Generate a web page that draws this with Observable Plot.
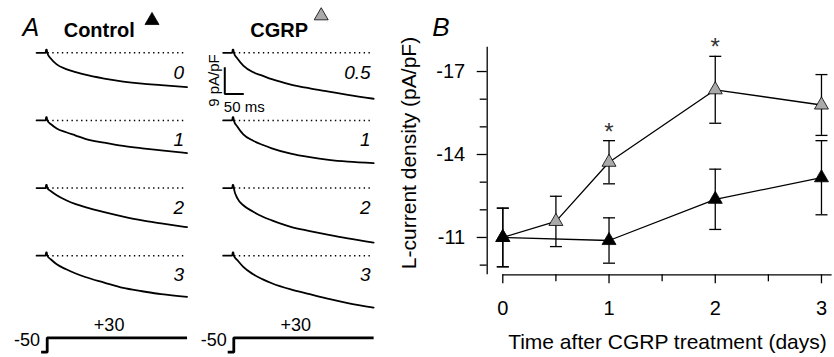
<!DOCTYPE html>
<html><head><meta charset="utf-8">
<script src="https://cdn.jsdelivr.net/npm/d3@7"></script>
<script src="https://cdn.jsdelivr.net/npm/@observablehq/plot@0.6"></script>
<style>
html,body{margin:0;padding:0;background:#fff;}
#fig{position:relative;width:834px;height:357px;overflow:hidden;background:#fff;}
#fig > svg{position:absolute;}
</style></head><body><div id="fig"></div>
<script>
// ---------- Panel A data (whole-cell L-type current traces) ----------
const conds = ["Control", "CGRP"];
const ctrlLabels = ["0", "1", "2", "3"];
const cgrpLabels = ["0.5", "1", "2", "3"];
const traceT = [0, 10, 25, 50, 75, 100, 150, 200, 250, 300, 368];   // ms
const preT = [-28, -4, -3, -1];                                     // ms, holding + artefact
const preI = [0, 0, 1.1, 1.1];                                      // pA/pF
const ctrlDay0 = [0, -2.0, -3.9, -5.5, -6.5, -7.4, -8.7, -9.7, -10.4, -10.9, -11.6];
const ctrlDay1 = [0, -1.3, -2.7, -4.0, -5.1, -6.2, -7.5, -8.6, -9.4, -10.1, -11.0];
const ctrlDay2 = [0, -1.1, -2.4, -4.1, -5.4, -6.4, -8.1, -9.6, -10.9, -11.9, -13.2];
const ctrlDay3 = [0, -1.3, -2.9, -4.6, -6.0, -7.2, -9.1, -10.9, -12.0, -13.0, -13.9];
const cgrpDay05 = [0, -2.0, -4.3, -6.5, -7.7, -8.9, -10.7, -12.0, -13.1, -14.2, -15.5];
const cgrpDay1 = [0, -2.2, -4.7, -6.8, -8.2, -9.4, -11.2, -12.4, -13.3, -13.9, -14.4];
const cgrpDay2 = [0, -3.6, -5.8, -7.9, -9.6, -10.9, -13.1, -14.5, -15.8, -17.0, -18.4];
const cgrpDay3 = [0, -1.6, -3.8, -6.2, -7.9, -9.3, -11.4, -13.0, -14.6, -16.0, -17.5];
const scaleBarMs = 50;
const scaleBarPApF = 9;
// voltage protocol
const protoT = [-16, 0, 0, 368];
const protoV = [-50, -50, 30, 30];

// ---------- Panel B data ----------
const bCtrlDays = [0, 1, 2, 3];
const bCtrlMean = [-11.0, -10.89, -12.38, -13.16];
const bCtrlSem = [1.06, 0.82, 1.09, 1.34];
const bCgrpDays = [0, 0.5, 1, 2, 3];
const bCgrpMean = [-11.0, -11.58, -13.72, -16.34, -15.79];
const bCgrpSem = [1.06, 0.91, 0.78, 1.21, 1.10];
const sigDays = [1, 2];
const xMajor = [0, 1, 2, 3];
const xMinor = [0.5, 1.5, 2.5];
const yMajor = [-17, -14, -11];
const yMinor = [-16, -15, -13, -12, -10];

// ---------- build tables ----------
const FONT = "'Liberation Sans', Arial, Helvetica, sans-serif";
const GRAY = "#aaaaaa";
const traceSets = [
  ["Control", 0, ctrlLabels[0], ctrlDay0], ["Control", 1, ctrlLabels[1], ctrlDay1],
  ["Control", 2, ctrlLabels[2], ctrlDay2], ["Control", 3, ctrlLabels[3], ctrlDay3],
  ["CGRP", 0, cgrpLabels[0], cgrpDay05], ["CGRP", 1, cgrpLabels[1], cgrpDay1],
  ["CGRP", 2, cgrpLabels[2], cgrpDay2], ["CGRP", 3, cgrpLabels[3], cgrpDay3]
];
const traceMeta = traceSets.map(([cond, row, label]) => ({cond, row, label, key: cond + row}));
const traceRows = [];
for (const [cond, row, label, vals] of traceSets) {
  preT.forEach((t, j) => traceRows.push({cond, row, key: cond + row, t, i: preI[j]}));
  traceT.forEach((t, j) => traceRows.push({cond, row, key: cond + row, t, i: vals[j]}));
}
const protoRows = [];
for (const cond of conds) protoT.forEach((t, j) => protoRows.push({cond, t, v: protoV[j]}));

const headers = [
  {cond: "Control", title: "Control", fill: "#000"},
  {cond: "CGRP", title: "CGRP", fill: GRAY}
];

// scale bar corner (layout anchor in data units of the CGRP day-0.5 cell)
const sbT = -23.7, sbI = -13.86;
const scaleBarPath = [
  {cond: "CGRP", row: 0, t: sbT, i: sbI + scaleBarPApF},
  {cond: "CGRP", row: 0, t: sbT, i: sbI},
  {cond: "CGRP", row: 0, t: sbT + scaleBarMs, i: sbI}
];

const facetMargins = {marginTop: 0, marginRight: 0, marginBottom: 0, marginLeft: 0};
const xA = {domain: [-35, 375], axis: null};
const fxA = {domain: conds, paddingInner: 0.165, paddingOuter: 0, round: false, axis: null, label: null};

const panelA = Plot.plot({
  width: 410, height: 313,
  marginTop: 42.5, marginBottom: 0, marginLeft: 33.4, marginRight: 34.2,
  style: {fontFamily: FONT, fontSize: "19px", color: "#000", background: "transparent", overflow: "visible"},
  x: xA,
  y: {domain: [-19.5, 3.3], axis: null},
  fx: fxA,
  fy: {domain: [0, 1, 2, 3], padding: 0, round: false, axis: null, label: null},
  facet: facetMargins,
  marks: [
    Plot.ruleY(traceMeta, {fx: "cond", fy: "row", y: () => 0, x1: () => 2, x2: () => 360,
      stroke: "#000", strokeWidth: 1.5, strokeDasharray: "1.4,3.4"}),
    Plot.line(traceRows, {fx: "cond", fy: "row", x: "t", y: "i", z: "key", curve: "monotone-x",
      stroke: "#000", strokeWidth: 1.8}),
    Plot.text(traceMeta, {fx: "cond", fy: "row", x: () => 360, y: () => -8.7, text: "label",
      textAnchor: "end", lineAnchor: "bottom", fontStyle: "italic", fontSize: 19}),
    // panel letter and column headers
    Plot.text(headers.filter(d => d.cond === "Control"), {fx: "cond", fy: () => 0, text: () => "A",
      frameAnchor: "top-left", dx: -11.4, dy: -7.5, textAnchor: "start", lineAnchor: "bottom",
      fontStyle: "italic", fontSize: 25}),
    Plot.text(headers, {fx: "cond", fy: () => 0, text: "title",
      frameAnchor: "top-left", dx: 29.8, dy: -6.5, textAnchor: "start", lineAnchor: "bottom",
      fontWeight: "bold", fontSize: 20}),
    Plot.dot(headers.filter(d => d.cond === "Control"), {fx: "cond", fy: () => 0, frameAnchor: "top-left",
      dx: 118.1, dy: -22.5, symbol: "triangle", r: 5.2, fill: "fill", stroke: "#000", strokeWidth: 0.8}),
    Plot.dot(headers.filter(d => d.cond === "CGRP"), {fx: "cond", fy: () => 0, frameAnchor: "top-left",
      dx: 100.7, dy: -27.2, symbol: "triangle", r: 5.2, fill: "fill", stroke: "#000", strokeWidth: 0.8}),
    // scale bar
    Plot.line(scaleBarPath, {fx: "cond", fy: "row", x: "t", y: "i", stroke: "#000", strokeWidth: 2,
      strokeLinejoin: "miter", strokeLinecap: "butt"}),
    Plot.text([scaleBarPath[1]], {fx: "cond", fy: "row", x: "t", y: d => d.i + scaleBarPApF / 2,
      text: () => scaleBarPApF + " pA/pF", rotate: -90, dx: -10.3, textAnchor: "middle", lineAnchor: "middle", fontSize: 15}),
    Plot.text([scaleBarPath[1]], {fx: "cond", fy: "row", x: "t", y: "i",
      text: () => scaleBarMs + " ms", dx: -1, dy: 17.7, textAnchor: "start", lineAnchor: "bottom", fontSize: 15})
  ]
});
panelA.style.left = "0px"; panelA.style.top = "0px";

const protoPlot = Plot.plot({
  width: 410, height: 44,
  marginTop: 24.3, marginBottom: 5.3, marginLeft: 33.4, marginRight: 34.2,
  style: {fontFamily: FONT, fontSize: "18px", color: "#000", background: "transparent", overflow: "visible"},
  x: xA,
  y: {domain: [-50, 30], axis: null},
  fx: fxA,
  facet: facetMargins,
  marks: [
    Plot.line(protoRows, {fx: "cond", x: "t", y: "v", z: "cond", stroke: "#000", strokeWidth: 2.8,
      strokeLinejoin: "miter", strokeLinecap: "butt"}),
    Plot.text(conds, {fx: d => d, x: () => protoT[0], y: () => protoV[0], text: () => String(protoV[0]),
      dx: -1, dy: -11.7, textAnchor: "end", lineAnchor: "middle", fontSize: 18}),
    Plot.text(conds, {fx: d => d, x: () => (protoT[2] + protoT[3]) / 2, y: () => protoV[2], text: () => "+" + protoV[2],
      dx: -8, dy: -12.3, textAnchor: "middle", lineAnchor: "middle", fontSize: 18})
  ]
});
protoPlot.style.left = "0px"; protoPlot.style.top = "313px";

// ---------- Panel B ----------
// "lo" = mean - SEM (more negative, drawn higher), "hi" = mean + SEM
const ctrlRows = bCtrlDays.map((d, j) => ({day: d, m: bCtrlMean[j], lo: bCtrlMean[j] - bCtrlSem[j], hi: bCtrlMean[j] + bCtrlSem[j]}));
const cgrpRows = bCgrpDays.map((d, j) => ({day: d, m: bCgrpMean[j], lo: bCgrpMean[j] - bCgrpSem[j], hi: bCgrpMean[j] + bCgrpSem[j]}));
const sigRows = cgrpRows.filter(d => sigDays.includes(d.day));
const capSymbol = {draw(ctx, size) { const w = Math.sqrt(size); ctx.moveTo(-w / 2, 0); ctx.lineTo(w / 2, 0); }};
const caps = rows => rows.flatMap(d => [{day: d.day, v: d.lo}, {day: d.day, v: d.hi}]);
const yDomB = [-9.65, -17.88];
const xDomB = [0, 3.1];
const yAxisOffset = -15.6;

const panelB = Plot.plot({
  width: 444, height: 357,
  marginTop: 46.7, marginBottom: 82.7, marginLeft: 112.3, marginRight: 2.4,
  style: {fontFamily: FONT, fontSize: "20px", color: "#000", background: "transparent", overflow: "visible"},
  x: {domain: xDomB, axis: null},
  y: {domain: yDomB, axis: null},
  marks: [
    Plot.ruleX([xDomB[0]], {dx: yAxisOffset, stroke: "#000", strokeWidth: 1.3}),
    Plot.ruleY([yDomB[0]], {stroke: "#000", strokeWidth: 1.3}),
    Plot.axisY(yMajor, {anchor: "left", dx: yAxisOffset, tickSize: 10, tickPadding: 12, tickFormat: d => String(d),
      fontSize: 20, strokeWidth: 1.3, label: null}),
    Plot.axisY(yMinor, {anchor: "left", dx: yAxisOffset, tickSize: 7, tickFormat: () => "", strokeWidth: 1.3, label: null}),
    Plot.axisX(xMajor, {anchor: "bottom", tickSize: 9, tickPadding: 17, tickFormat: d => String(d),
      fontSize: 20, strokeWidth: 1.3, label: null}),
    Plot.axisX(xMinor, {anchor: "bottom", tickSize: 7, tickFormat: () => "", strokeWidth: 1.3, label: null}),
    Plot.text(["Time after CGRP treatment (days)"], {frameAnchor: "bottom", dy: 74, lineAnchor: "bottom", fontSize: 21}),
    Plot.text(["L-current density (pA/pF)"], {frameAnchor: "left", rotate: -90, dx: -93.3, dy: -8,
      lineAnchor: "middle", textAnchor: "middle", fontSize: 21}),
    Plot.text(["B"], {frameAnchor: "top-left", dx: -70.6, dy: -11.7, textAnchor: "start", lineAnchor: "bottom",
      fontStyle: "italic", fontSize: 26}),
    // CGRP series
    Plot.ruleX(cgrpRows, {x: "day", y1: "lo", y2: "hi", stroke: "#000", strokeWidth: 1.3}),
    Plot.dot(caps(cgrpRows), {x: "day", y: "v", symbol: capSymbol, r: 6.77, stroke: "#000", strokeWidth: 1.3, fill: "none"}),
    Plot.line(cgrpRows, {x: "day", y: "m", stroke: "#000", strokeWidth: 1.3}),
    Plot.dot(cgrpRows, {x: "day", y: "m", symbol: "triangle", r: 5.2, fill: GRAY, stroke: "#000", strokeWidth: 0.8}),
    // Control series
    Plot.ruleX(ctrlRows, {x: "day", y1: "lo", y2: "hi", stroke: "#000", strokeWidth: 1.3}),
    Plot.dot(caps(ctrlRows), {x: "day", y: "v", symbol: capSymbol, r: 6.77, stroke: "#000", strokeWidth: 1.3, fill: "none"}),
    Plot.line(ctrlRows, {x: "day", y: "m", stroke: "#000", strokeWidth: 1.3}),
    Plot.dot(ctrlRows, {x: "day", y: "m", symbol: "triangle", r: 5.2, fill: "#000", stroke: "#000", strokeWidth: 0.8}),
    // significance, above the upper (more negative) error bar
    Plot.text(sigRows, {x: "day", y: "lo", text: () => "*", dy: -1, lineAnchor: "bottom", fontSize: 24, fill: "#333"})
  ]
});
panelB.style.left = "390px"; panelB.style.top = "0px";

const fig = document.getElementById("fig");
fig.appendChild(panelA);
fig.appendChild(protoPlot);
fig.appendChild(panelB);
</script>
</body></html>
